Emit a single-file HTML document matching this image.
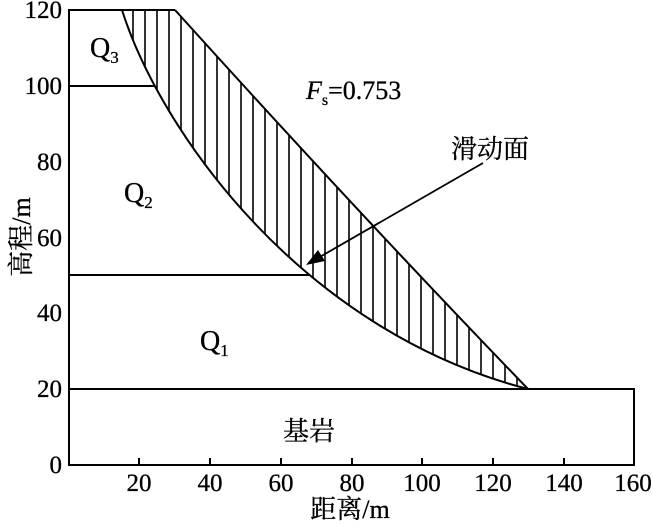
<!DOCTYPE html>
<html><head><meta charset="utf-8"><style>
body{margin:0;background:#fff}
text{font-family:"Liberation Serif","Noto Serif CJK SC",serif;fill:#000;stroke:#000;stroke-width:0.3}
</style></head><body>
<svg width="653" height="523" viewBox="0 0 653 523" xmlns="http://www.w3.org/2000/svg">
<defs>
<clipPath id="c"><path d="M122,10 L175,10 Q360,215 528,389 C300,330 160,130 122,10 Z"/></clipPath>
</defs>
<g clip-path="url(#c)" stroke="#000" stroke-width="1.6">
<path d="M133,0V400M145,0V400M157,0V400M169,0V400M181,0V400M193,0V400M205,0V400M217,0V400M229,0V400M241,0V400M253,0V400M265,0V400M277,0V400M289,0V400M301,0V400M313,0V400M325,0V400M337,0V400M349,0V400M361,0V400M373,0V400M385,0V400M397,0V400M409,0V400M421,0V400M433,0V400M445,0V400M457,0V400M469,0V400M481,0V400M493,0V400M505,0V400M517,0V400"/>
</g>
<g fill="none" stroke="#000" stroke-width="2">
<path d="M69,465V10H175"/>
<path d="M175,10 Q360,215 528,389"/>
<path d="M122,10 C160,130 300,330 528,389"/>
<path d="M69,86H154M69,275H310"/>
<rect x="69" y="389" width="565" height="76"/>
<path d="M139,465v-7M210,465v-7M281,465v-7M352,465v-7M422,465v-7M493,465v-7M564,465v-7"/>
<path d="M483,163L318,258" stroke-width="1.8"/>
</g>
<path d="M306,265 L318,250 L325,261 Z" fill="#000"/>
<g font-size="25">
<text x="62" y="18" text-anchor="end">120</text>
<text x="62" y="94" text-anchor="end">100</text>
<text x="62" y="170" text-anchor="end">80</text>
<text x="62" y="246" text-anchor="end">60</text>
<text x="62" y="321" text-anchor="end">40</text>
<text x="62" y="397" text-anchor="end">20</text>
<text x="62" y="473" text-anchor="end">0</text>
<text x="139" y="491" text-anchor="middle">20</text>
<text x="210" y="491" text-anchor="middle">40</text>
<text x="281" y="491" text-anchor="middle">60</text>
<text x="352" y="491" text-anchor="middle">80</text>
<text x="422" y="491" text-anchor="middle">100</text>
<text x="493" y="491" text-anchor="middle">120</text>
<text x="564" y="491" text-anchor="middle">140</text>
<text x="633" y="491" text-anchor="middle">160</text>
<text x="350" y="518" text-anchor="middle" font-size="26">距离/m</text>
<text transform="translate(30,237) rotate(-90)" text-anchor="middle" font-size="26">高程/m</text>
<text x="90" y="57" font-size="28">Q<tspan font-size="17" dy="6">3</tspan></text>
<text x="124" y="202" font-size="28">Q<tspan font-size="17" dy="6">2</tspan></text>
<text x="200" y="350" font-size="28">Q<tspan font-size="17" dy="6">1</tspan></text>
<text x="283" y="440" font-size="26">基岩</text>
<text x="306" y="99" font-size="26"><tspan font-style="italic">F</tspan><tspan font-size="16" dy="6">s</tspan><tspan dy="-6">=0.753</tspan></text>
<text x="451" y="158" font-size="26">滑动面</text>
</g>
</svg>
</body></html>
